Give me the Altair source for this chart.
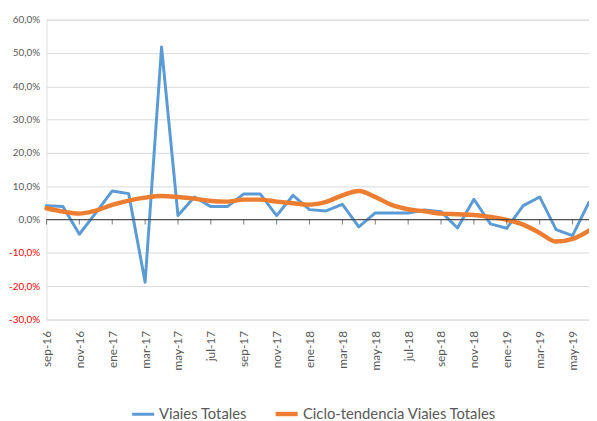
import altair as alt
import pandas as pd

meses = ["sep-16", "oct-16", "nov-16", "dic-16",
         "ene-17", "feb-17", "mar-17", "abr-17", "may-17", "jun-17", "jul-17", "ago-17",
         "sep-17", "oct-17", "nov-17", "dic-17",
         "ene-18", "feb-18", "mar-18", "abr-18", "may-18", "jun-18", "jul-18", "ago-18",
         "sep-18", "oct-18", "nov-18", "dic-18",
         "ene-19", "feb-19", "mar-19", "abr-19", "may-19", "jun-19"]

viajes = [4.2, 3.9, -4.4, 2.0,
          8.6, 7.8, -18.8, 51.8, 1.2, 6.8, 3.9, 3.9,
          7.7, 7.7, 1.2, 7.3,
          3.0, 2.6, 4.6, -2.2, 2.0, 2.0, 2.0, 2.9,
          2.4, -2.5, 6.1, -1.3,
          -2.6, 4.2, 6.8, -3.0, -4.8, 5.2]

tendencia = [3.4, 2.4, 1.8, 2.7,
             4.4, 5.7, 6.6, 7.1, 6.8, 6.3, 5.6, 5.4,
             6.0, 6.0, 5.4, 4.9,
             4.5, 5.3, 7.3, 8.6, 6.8, 4.4, 3.1, 2.5,
             1.8, 1.6, 1.4, 0.8,
             -0.1, -1.5, -4.0, -6.6, -5.8, -3.3]

serie_a = "Viaies Totales"
serie_b = "Ciclo-tendencia Viaies Totales"

df = pd.DataFrame(
    [{"idx": i, "mes": m, "serie": serie_a, "valor": v} for i, (m, v) in enumerate(zip(meses, viajes))]
    + [{"idx": i, "mes": m, "serie": serie_b, "valor": v} for i, (m, v) in enumerate(zip(meses, tendencia))]
)

FONT = "Lato"
GRAY = "#595959"

x_enc = alt.X(
    "mes:O", sort=meses,
    scale=alt.Scale(type="point", padding=0, domain=meses),
    axis=alt.Axis(
        title=None, values=meses[::2], labelAngle=270, labelAlign="right", labelBaseline="middle",
        labelPadding=11, ticks=False, domain=False, grid=False, labelOverlap=False,
        labelFont=FONT, labelFontSize=12, labelColor=GRAY,
    ),
)

y_enc = alt.Y(
    "valor:Q",
    scale=alt.Scale(domain=[-30, 60], nice=False, zero=False),
    axis=alt.Axis(
        title=None, values=list(range(-30, 61, 10)), ticks=False, domain=False,
        grid=True, gridColor="#D9D9D9", gridWidth=1, labelOverlap=False,
        labelPadding=7, labelFont=FONT, labelFontSize=10,
        labelColor=alt.expr("datum.value < 0 ? '#FF0000' : '#595959'"),
        labelExpr="(datum.value < 0 ? '-' : '') + replace(format(abs(datum.value), '.1f'), '.', ',') + '%'",
    ),
)

legend_cfg = dict(
    title=None, orient="none", direction="horizontal", legendX=85, legendY=386,
    symbolType="stroke", symbolSize=500, labelFont=FONT, labelFontSize=15,
    labelColor=GRAY, columnPadding=19, labelOffset=3, labelLimit=400,
)

color_enc = alt.Color(
    "serie:N",
    scale=alt.Scale(domain=[serie_a, serie_b], range=["#5B9BD5", "#ED7D31"]),
    legend=alt.Legend(**legend_cfg),
)
sw_enc = alt.StrokeWidth(
    "serie:N",
    scale=alt.Scale(domain=[serie_a, serie_b], range=[3, 4.5]),
    legend=alt.Legend(**legend_cfg),
)

base = alt.Chart(df)

zero_rule = base.transform_filter(
    (alt.datum.idx == 0) & (alt.datum.serie == serie_a)
).transform_calculate(valor="0").mark_rule(color="#404040", strokeWidth=1).encode(
    y=y_enc, x=alt.value(0), x2=alt.value(550)
)

ticks = base.transform_filter(
    (alt.datum.idx % 2 == 0) & (alt.datum.serie == serie_a)
).transform_calculate(valor="0").mark_tick(
    orient="vertical", size=5, yOffset=2.5, color="#404040", thickness=1
).encode(x=x_enc, y=y_enc)

line_a = base.transform_filter(alt.datum.serie == serie_a).mark_line(
    strokeJoin="round", strokeCap="round"
).encode(x=x_enc, y=y_enc, color=color_enc, strokeWidth=sw_enc)

line_b = base.transform_filter(alt.datum.serie == serie_b).mark_line(
    interpolate="monotone", strokeCap="round"
).encode(x=x_enc, y=y_enc, color=color_enc, strokeWidth=sw_enc)

chart = alt.layer(line_a, line_b, zero_rule, ticks).properties(
    width=550, height=304,
    autosize=alt.AutoSizeParams(type="none"),
    padding={"left": 39, "top": 9, "right": 0, "bottom": 100},
).configure_view(stroke=None).configure(background="white")

chart.save("out.html", embed_options={"renderer": "svg", "actions": False})
